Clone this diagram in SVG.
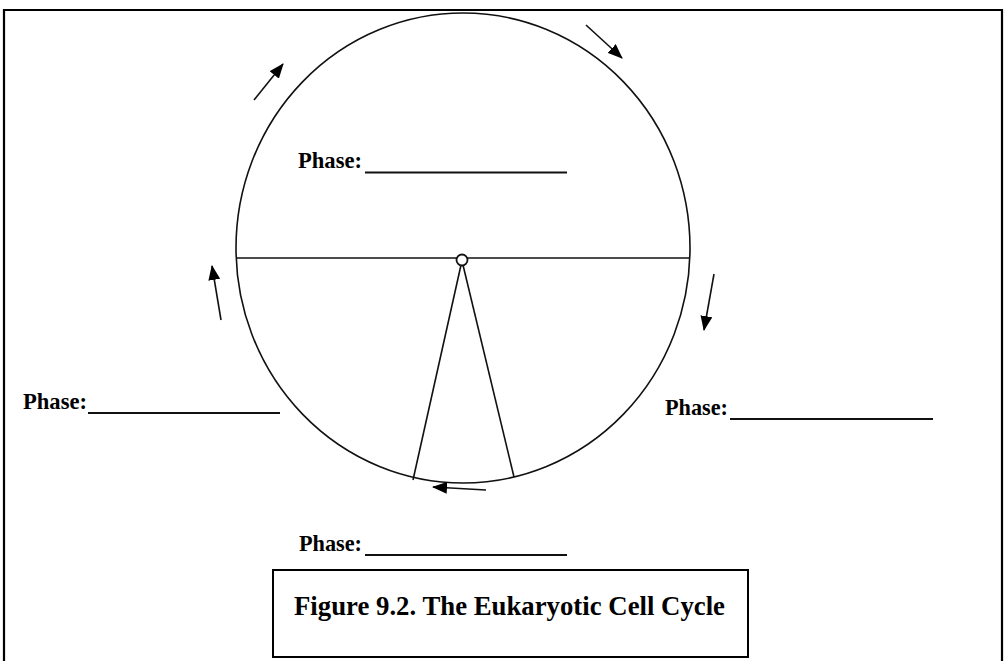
<svg xmlns="http://www.w3.org/2000/svg" width="1006" height="661" viewBox="0 0 1006 661">
<style>
.ln{fill:none;stroke:#111;stroke-width:1.6}
.ar{fill:none;stroke:#111;stroke-width:1.6;marker-end:url(#ah)}
.lbl{font-family:"Liberation Serif","Times New Roman",serif;font-weight:bold;font-size:22.5px;fill:#000}
.cap{font-family:"Liberation Serif","Times New Roman",serif;font-weight:bold;font-size:26.5px;fill:#000}
.ul{stroke:#111;stroke-width:1.8}
</style>
<defs>
<marker id="ah" markerUnits="userSpaceOnUse" markerWidth="16" markerHeight="12" refX="14" refY="6" orient="auto">
<path d="M0,0 L15,6 L0,12 Z" fill="#000"/>
</marker>
</defs>
<rect width="1006" height="661" fill="#fff"/>
<path d="M4,661 V10 H1002 V661" fill="none" stroke="#000" stroke-width="2.2"/>
<g id="cycle">
<ellipse cx="463" cy="248" rx="227" ry="235" class="ln"/>
<line x1="236" y1="258" x2="690" y2="258" class="ln"/>
<line x1="461" y1="265" x2="413" y2="480" class="ln"/>
<line x1="463" y1="265" x2="514" y2="477" class="ln"/>
<circle cx="462" cy="260" r="5.5" fill="#fff" stroke="#111" stroke-width="1.8"/>
</g>
<g id="connectors">
<line x1="254" y1="100" x2="283" y2="64" class="ar"/>
<line x1="586" y1="25" x2="622" y2="58" class="ar"/>
<line x1="221" y1="320" x2="212" y2="266" class="ar"/>
<line x1="714" y1="274" x2="704" y2="330" class="ar"/>
<line x1="486" y1="490" x2="433" y2="487" class="ar"/>
</g>
<g id="phase-top">
<text x="298" y="168" class="lbl" textLength="64" lengthAdjust="spacingAndGlyphs">Phase:</text>
<line x1="365" y1="172.5" x2="567" y2="172.5" class="ul"/>
</g>
<g id="phase-left">
<text x="23" y="409" class="lbl" textLength="64" lengthAdjust="spacingAndGlyphs">Phase:</text>
<line x1="88" y1="413" x2="280" y2="413" class="ul"/>
</g>
<g id="phase-right">
<text x="665" y="415" class="lbl" textLength="63" lengthAdjust="spacingAndGlyphs">Phase:</text>
<line x1="730" y1="419" x2="933" y2="419" class="ul"/>
</g>
<g id="phase-bottom">
<text x="299" y="551" class="lbl" textLength="63" lengthAdjust="spacingAndGlyphs">Phase:</text>
<line x1="365" y1="555" x2="567" y2="555" class="ul"/>
</g>
<g id="caption">
<rect x="273" y="570" width="475" height="87" fill="#fff" stroke="#000" stroke-width="2"/>
<text x="294" y="615" class="cap" textLength="431" lengthAdjust="spacingAndGlyphs">Figure 9.2. The Eukaryotic Cell Cycle</text>
</g>
</svg>
